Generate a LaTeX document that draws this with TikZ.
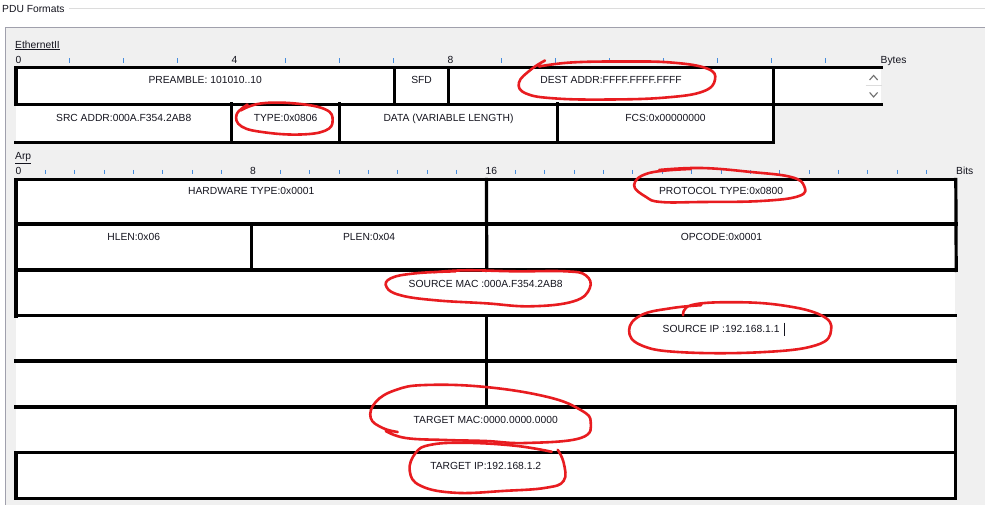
\documentclass[tikz,border=0pt]{standalone}
\usepackage{fontspec}
\setmainfont{Liberation Sans}
\usetikzlibrary{positioning}
\definecolor{panel}{RGB}{240,240,240}
\definecolor{frame}{RGB}{160,160,172}
\definecolor{groove}{RGB}{220,220,220}
\definecolor{tickblue}{RGB}{70,140,220}
\definecolor{pen}{RGB}{232,28,32}
\definecolor{ink}{RGB}{20,20,30}
\definecolor{arrowgrey}{RGB}{110,110,110}
\tikzset{
  cell/.style={fill=white,inner sep=0pt,anchor=north west},
  lbl/.style={inner sep=0pt,font=\fontsize{10.3}{12}\selectfont,text=ink,text height=7.4pt,text depth=0pt},
  hd/.style={lbl,anchor=west},
  brd/.style={line width=3.2pt,line cap=rect},
  tk/.style={tickblue,line width=0.9pt},
  ring/.style={pen,line width=2.6pt,line cap=round,line join=round},
}

\begin{document}
\begin{tikzpicture}[x=1pt,y=-1pt]
  \fill[white] (0,0) rectangle (985,505);
  \useasboundingbox (0,0) rectangle (985,505);

  % window header and panel
  \node[hd] (pdu) at (2,9) {PDU Formats};
  \coordinate (hdend) at (985,9.5);
  \draw[groove,line width=1pt] ([xshift=4pt]pdu.east) -- (pdu.east -| hdend);
  \fill[panel] (5.5,28) rectangle (985,505);
  \draw[frame,line width=1pt] (5.5,505) -- (5.5,28) -- (985,28);

  % ---- Ethernet II ----
  \node[hd] (eth) at (15,44.5) {\underline{EthernetII}};
  \node[hd] (e0) at (15.5,59.5) {0};
  \node[hd] (e4) at (231.5,59.5) {4};
  \node[hd] (e8) at (447.5,59.5) {8};
  \node[hd] (eby) at (880.5,59.5) {Bytes};
  \foreach \k in {1,...,15}{
    \ifnum\k=4\else\ifnum\k=8\else\draw[tk] (15.5+54*\k,58.5) -- ++(0,4.5);\fi\fi
  }

  \node[cell,minimum width=378pt,minimum height=36.5pt] (pre) at (16,67.5) {};
  \node[cell,minimum width=54pt,minimum height=36.5pt,right=0pt of pre] (sfd) {};
  \node[cell,minimum width=324pt,minimum height=36.5pt,right=0pt of sfd] (dst) {};
  \node[cell,minimum width=108pt,minimum height=36.5pt,right=0pt of dst] (more) {};
  \node[cell,minimum width=215pt,minimum height=38.5pt] (src) at (16,104) {};
  \node[cell,minimum width=108pt,minimum height=38.5pt,right=0pt of src] (typ) {};
  \node[cell,minimum width=217pt,minimum height=38.5pt,right=0pt of typ] (dat) {};
  \node[cell,minimum width=216pt,minimum height=38.5pt,right=0pt of dat] (fcs) {};

  \node[lbl] (preT) at ([yshift=-12pt]pre.north) {PREAMBLE: 101010..10};
  \node[lbl] (sfdT) at ([yshift=-12pt]sfd.north) {SFD};
  \node[lbl] (dstT) at ([yshift=-12pt]dst.north) {DEST ADDR:FFFF.FFFF.FFFF};
  \node[lbl] (srcT) at ([yshift=-13.5pt]src.north) {SRC ADDR:000A.F354.2AB8};
  \node[lbl] (typT) at ([yshift=-13.5pt]typ.north) {TYPE:0x0806};
  \node[lbl] (datT) at ([yshift=-13.5pt]dat.north) {DATA (VARIABLE LENGTH)};
  \node[lbl] (fcsT) at ([yshift=-13.5pt]fcs.north) {FCS:0x00000000};

  \draw[brd] (pre.north west) -- (more.north east);
  \draw[brd] (pre.south west) -- (more.south east);
  \draw[brd] (pre.north west) -- (pre.south west);
  \draw[brd] (pre.north east) -- (pre.south east);
  \draw[brd] (sfd.north east) -- (sfd.south east);
  \draw[brd] (dst.north east) -- (dst.south east);
  \draw[brd] (src.south west) -- (fcs.south east);
  \draw[brd] (src.north east) -- (src.south east);
  \draw[brd] (typ.north east) -- (typ.south east);
  \draw[brd] (dat.north east) -- (dat.south east);
  \draw[brd] (fcs.north east) -- (fcs.south east);
  % scroll buttons
  \draw[groove,line width=0.8pt] ([xshift=-16pt,yshift=0.75pt]more.east) -- ([yshift=0.75pt]more.east);
  \draw[arrowgrey,line width=1.1pt,shift={(more.east)}] (-12,-6) -- (-8,-10.5) -- (-4,-6);
  \draw[arrowgrey,line width=1.1pt,shift={(more.east)}] (-12,6.5) -- (-8,11) -- (-4,6.5);

  % ---- Arp ----
  \node[hd] (arp) at (15,156) {\underline{Arp}};
  \node[hd] (a0) at (15.5,171) {0};
  \node[hd] (a8) at (250,171) {8};
  \node[hd] (a16) at (485.5,171) {16};
  \node[hd] (abi) at (956,171) {Bits};
  \foreach \k in {1,...,31}{
    \ifnum\k=8\else\ifnum\k=16\else\draw[tk] (16+29.375*\k,170) -- ++(0,4.5);\fi\fi
  }

  \node[cell,minimum width=470pt,minimum height=44.5pt] (hw) at (16,179.5) {};
  \node[cell,minimum width=469pt,minimum height=44.5pt,right=0pt of hw] (pt) {};
  \node[cell,minimum width=235pt,minimum height=46pt] (hl) at (16,224) {};
  \node[cell,minimum width=235pt,minimum height=46pt,right=0pt of hl] (pl) {};
  \node[cell,minimum width=469pt,minimum height=46pt,right=0pt of pl] (op) {};
  \node[cell,minimum width=939pt,minimum height=45.5pt] (smac) at (16,270) {};
  \node[cell,minimum width=470pt,minimum height=45.5pt] (smac2) at (16,315.5) {};
  \node[cell,minimum width=469pt,minimum height=45.5pt,right=0pt of smac2] (sip) {};
  \node[cell,minimum width=470pt,minimum height=46pt] (sip2) at (16,361) {};
  \node[cell,minimum width=469pt,minimum height=46pt,right=0pt of sip2] (tmac1) {};
  \node[cell,minimum width=939pt,minimum height=45.5pt] (tmac) at (16,407) {};
  \node[cell,minimum width=939pt,minimum height=45.5pt] (tip) at (16,452.5) {};

  \node[lbl] (hwT) at ([yshift=-11.5pt]hw.north) {HARDWARE TYPE:0x0001};
  \node[lbl] (ptT) at ([yshift=-11.5pt]pt.north) {PROTOCOL TYPE:0x0800};
  \node[lbl] (hlT) at ([yshift=-12.7pt]hl.north) {HLEN:0x06};
  \node[lbl] (plT) at ([yshift=-12.7pt]pl.north) {PLEN:0x04};
  \node[lbl] (opT) at ([yshift=-12.7pt]op.north) {OPCODE:0x0001};
  \node[lbl] (smacT) at ([yshift=-13.3pt]smac.north) {SOURCE MAC :000A.F354.2AB8};
  \node[lbl] (sipT) at ([yshift=-13.7pt]sip.north) {SOURCE IP :192.168.1.1};
  \node[lbl] (tmacT) at ([yshift=-13pt]tmac.north) {TARGET MAC:0000.0000.0000};
  \node[lbl] (tipT) at ([yshift=-13.3pt]tip.north) {TARGET IP:192.168.1.2};
  \draw[ink,line width=0.9pt] ([xshift=5pt,yshift=6.5pt]sipT.east) -- ([xshift=5pt,yshift=-6.5pt]sipT.east);

  \draw[brd] (hw.north west) -- (pt.north east);
  \draw[brd] (hl.north west) -- (op.north east);
  \draw[brd] (smac.north west) -- (smac.north east);
  \draw[brd] (smac2.north west) -- (sip.north east);
  \draw[brd] (sip2.north west) -- (tmac1.north east);
  \draw[brd] (tmac.north west) -- (tmac.north east);
  \draw[brd] (tip.north west) -- (tip.north east);
  \draw[brd] (tip.south west) -- (tip.south east);
  \draw[brd] (hw.north west) -- (smac.south west);
  \draw[brd] (tip.north west) -- (tip.south west);
  \draw[brd] (pt.north east) -- (op.south east);
  \draw[brd] (tmac.north east) -- (tip.south east);
  \draw[brd] (hw.north east) -- (pl.south east);
  \draw[brd] (smac2.north east) -- (sip2.south east);
  \draw[brd] (hl.north east) -- (hl.south east);

  % hand-drawn red loops
  \draw[ring,shift={(dstT.center)}] plot[smooth,tension=0.7] coordinates
    {(-66,-19) (-80,-10) (-92,3) (-85,14) (-55,19) (0,20) (55,18) (92,12) (104,0) (96,-11) (60,-17) (10,-18) (-40,-17) (-72,-13)};
  \draw[ring,shift={(typT.center)}] plot[smooth,tension=0.7] coordinates
    {(-38,-13) (-49,-3) (-44,9) (-20,15) (15,17) (40,13) (47,3) (40,-8) (10,-14) (-25,-14) (-45,-7)};
  \draw[ring,shift={(ptT.center)}] plot[smooth,tension=0.7] coordinates
    {(-30,-22) (-72,-18) (-87,-6) (-75,6) (-60,11) (-20,11) (40,10) (78,5) (83,-5) (70,-14) (30,-19) (-20,-23) (-62,-21)};
  \draw[ring,shift={(smacT.center)}] plot[smooth,tension=0.7] coordinates
    {(-30,-12) (-70,-10) (-95,-5) (-99,4) (-85,12) (-50,17) (0,20) (45,23) (88,18) (104,5) (100,-8) (80,-12) (30,-12) (-20,-13) (-52,-11)};
  \draw[ring,shift={(sipT.center)}] plot[smooth,tension=0.7] coordinates
    {(-38,-14) (-30,-24) (10,-27) (60,-24) (100,-14) (110,1) (95,16) (40,23) (-40,23) (-80,16) (-92,1) (-80,-14) (-50,-21) (-20,-24)};
  \draw[ring,shift={(tmacT.center)}] plot[smooth,tension=0.7] coordinates
    {(-88,12) (-103,8) (-115,-2) (-110,-18) (-90,-30) (-60,-35) (0,-33) (62,-23) (95,-10) (105,2) (95,18) (40,23) (0,21) (-40,20) (-80,18) (-100,11)};
  \draw[ring,shift={(tipT.center)}] plot[smooth,tension=0.7] coordinates
    {(72,-16) (78,-3) (78,15) (60,22) (20,25) (-30,27) (-65,20) (-76,5) (-70,-13) (-55,-21) (-20,-23) (30,-20) (66,-14)};
\end{tikzpicture}
\end{document}
